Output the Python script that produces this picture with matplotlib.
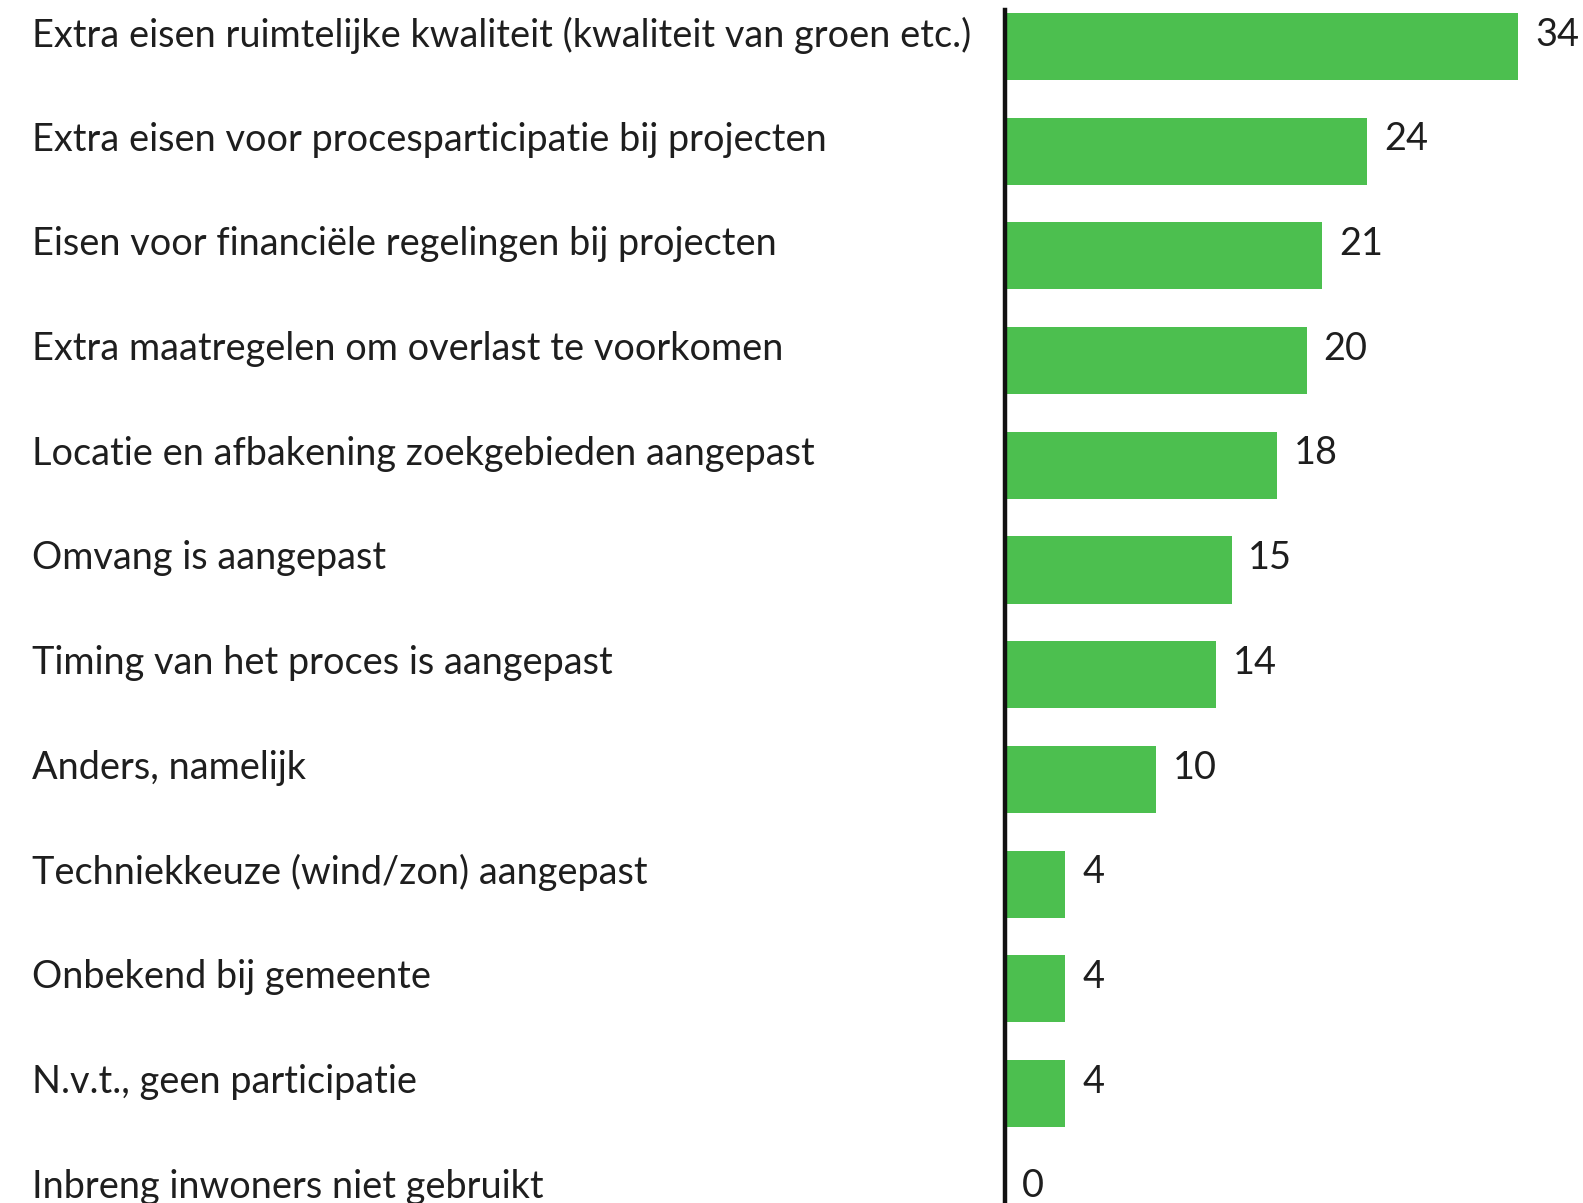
import matplotlib
matplotlib.use('Agg')
import matplotlib.pyplot as plt

labels = [
    "Extra eisen ruimtelijke kwaliteit (kwaliteit van groen etc.)",
    "Extra eisen voor procesparticipatie bij projecten",
    "Eisen voor financiële regelingen bij projecten",
    "Extra maatregelen om overlast te voorkomen",
    "Locatie en afbakening zoekgebieden aangepast",
    "Omvang is aangepast",
    "Timing van het proces is aangepast",
    "Anders, namelijk",
    "Techniekkeuze (wind/zon) aangepast",
    "Onbekend bij gemeente",
    "N.v.t., geen participatie",
    "Inbreng inwoners niet gebruikt",
]
values = [34, 24, 21, 20, 18, 15, 14, 10, 4, 4, 4, 0]

plt.rcParams['font.family'] = ['Lato', 'DejaVu Sans']

W, H = 1583, 1203
fig = plt.figure(figsize=(W / 100, H / 100), dpi=100)
x0 = 1005
ax = fig.add_axes([x0 / W, 0, 1 - x0 / W, 1])

pos = list(range(len(labels)))
ax.barh(pos, values, height=0.64, color='#4cbf4f')

ppu = 15.1
ax.set_xlim(0, (W - x0) / ppu)
row = 104.7
ax.set_ylim((H - 46.5) / row, -46.5 / row)

for s in ['top', 'right', 'bottom']:
    ax.spines[s].set_visible(False)
ax.spines['left'].set_linewidth(3.2)
ax.spines['left'].set_color('#111111')
ax.spines['left'].set_bounds(-0.35, (H - 46.5) / row)

ax.set_xticks([])
ax.set_yticks(pos)
ax.set_yticklabels(labels, ha='left', fontsize=27.3, color='#1e1e1e')
ax.tick_params(axis='y', length=0, pad=(x0 - 32) * 0.72)
shift = matplotlib.transforms.ScaledTranslation(0, 15 / 100, fig.dpi_scale_trans)
for t in ax.get_yticklabels():
    t.set_transform(t.get_transform() + shift)

for i, v in enumerate(values):
    ax.annotate(str(v), (v, i), xytext=(12, 8.5), textcoords='offset points',
                va='center', ha='left', fontsize=27.3, color='#1e1e1e')

fig.savefig('out.png', dpi=100)
